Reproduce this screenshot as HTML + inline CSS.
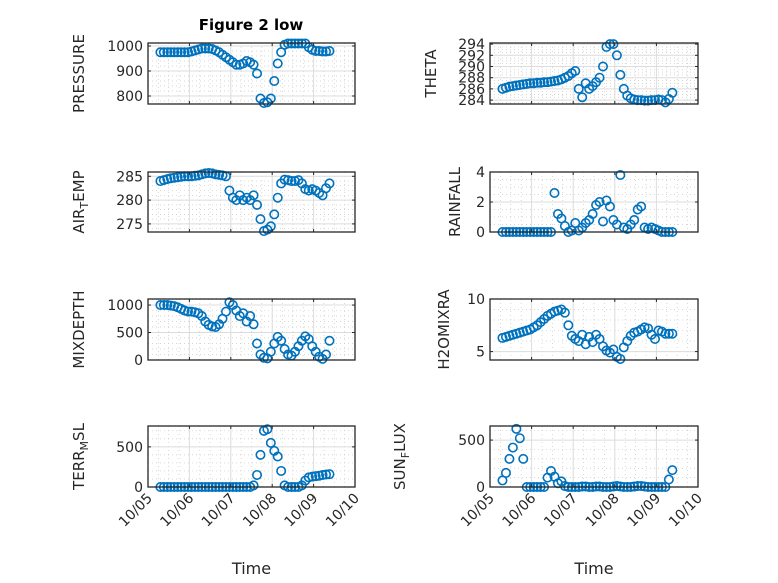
<!DOCTYPE html>
<html><head><meta charset="utf-8">
<style>
html,body{margin:0;padding:0;background:#fff;}
svg{display:block;font-family:"DejaVu Sans","Liberation Sans",sans-serif;}
</style></head>
<body>
<svg id="fig" width="778" height="583" viewBox="0 0 778 583" xmlns="http://www.w3.org/2000/svg">
<rect width="778" height="583" fill="#fff"/>
</svg>
<script>
// time axis: days since 10/05 00:00, 2-hour sampling
const startDay = 0.3;
const stepDay = 1/12;
const xTickLabels = ["10/05","10/06","10/07","10/08","10/09","10/10"];
const pressure = [975,975,975,975,975,975,975,975,975,978,982,986,990,990,990,988,982,975,965,955,945,935,925,925,930,940,935,925,890,790,772,775,790,860,930,975,1005,1010,1010,1010,1010,1010,1010,995,985,980,980,978,978,980];
const theta = [286,286.2,286.4,286.5,286.6,286.7,286.8,286.9,287,287,287.1,287.1,287.2,287.2,287.3,287.4,287.5,287.7,288,288.3,288.8,289.2,286,284.5,287,286,286.5,287.2,288,290,293.5,294,294,292,288.5,286,284.8,284.3,284.1,284,284,283.9,283.9,284,284,284.1,284,283.6,284.2,285.3];
const airTemp = [284,284.2,284.4,284.6,284.7,284.8,284.9,285,285,285,285.1,285.2,285.4,285.6,285.7,285.6,285.4,285.3,285.2,285,282,280.5,280,281,280,280.5,280,281,279,276,273.5,273.8,274.5,277,280.5,283.5,284.3,284.2,284,284,284.2,283.5,282.3,282,282.3,282,281.5,281,282.5,283.5];
const rainfall = [0,0,0,0,0,0,0,0,0,0,0,0,0,0,0,2.6,1.2,0.9,0.4,0,0.1,0.6,0.1,0.3,0.6,0.8,1.2,1.8,2.0,0.7,2.1,1.7,0.8,0.5,3.8,0.3,0.2,0.5,0.8,1.5,1.7,0.3,0.2,0.3,0.2,0.1,0,0,0,0];
const mixDepth = [1000,1000,1000,990,980,960,930,900,880,880,870,850,800,700,640,610,600,650,750,880,1050,1000,900,800,850,700,800,650,300,100,40,30,150,300,420,350,200,100,80,150,250,350,430,380,250,150,60,20,100,350];
const h2oMix = [6.3,6.4,6.5,6.6,6.7,6.8,6.9,7.0,7.1,7.3,7.5,7.8,8.1,8.4,8.6,8.8,8.9,9.0,8.7,7.5,6.5,6.2,6.0,6.6,5.7,6.4,5.9,6.6,6.2,5.5,5.1,4.9,5.2,4.5,4.3,5.4,6.0,6.5,6.8,6.9,7.1,7.3,7.2,6.6,6.2,7.0,6.9,6.7,6.7,6.7];
const terrMsl = [0,0,0,0,0,0,0,0,0,0,0,0,0,0,0,0,0,0,0,0,0,0,0,0,0,0,0,20,150,400,700,720,550,450,380,200,20,0,0,0,0,20,80,120,130,135,140,150,155,160];
const sunFlux = [70,150,300,420,620,520,300,0,0,0,0,0,0,100,170,110,40,60,10,0,0,0,0,5,5,0,0,5,5,0,0,0,5,10,5,0,0,0,5,10,10,5,0,0,0,0,0,0,80,180];

const NS = "http://www.w3.org/2000/svg";
const svg = document.getElementById("fig");
function mk(tag, attrs, parent){ const e=document.createElementNS(NS,tag); for(const k in attrs) e.setAttribute(k,attrs[k]); (parent||svg).appendChild(e); return e; }

const cols = [{x0:148,x1:355},{x0:490,x1:698}];
const rows = [{y0:43,y1:104},{y0:172,y1:232},{y0:299,y1:360},{y0:426,y1:487}];

const panels = [
 {key:"pressure", data:pressure, c:0,r:0, ylim:[768,1012], ticks:[800,900,1000], minor:20, label:["PRESSURE"], lx:79},
 {key:"theta", data:theta, c:1,r:0, ylim:[283.3,294.2], ticks:[284,286,288,290,292,294], minor:0.5, label:["THETA"], lx:431},
 {key:"air-temp", data:airTemp, c:0,r:1, ylim:[273.3,285.9], ticks:[275,280,285], minor:1, label:["AIR","T","EMP"], lx:79},
 {key:"rainfall", data:rainfall, c:1,r:1, ylim:[0,4], ticks:[0,2,4], minor:0.5, label:["RAINFALL"], lx:455},
 {key:"mixdepth", data:mixDepth, c:0,r:2, ylim:[0,1110], ticks:[0,500,1000], minor:100, label:["MIXDEPTH"], lx:79},
 {key:"h2omixra", data:h2oMix, c:1,r:2, ylim:[4.2,10], ticks:[5,10], minor:1, label:["H2OMIXRA"], lx:444},
 {key:"terr-msl", data:terrMsl, c:0,r:3, ylim:[0,760], ticks:[0,500], minor:100, label:["TERR","M","SL"], lx:79},
 {key:"sun-flux", data:sunFlux, c:1,r:3, ylim:[0,650], ticks:[0,500], minor:100, label:["SUN","F","LUX"], lx:400}
];

panels.forEach(p=>{
  const {x0,x1}=cols[p.c], {y0,y1}=rows[p.r];
  const g = mk("g",{});
  
  
  const xs = t => x0 + (t/5)*(x1-x0);
  const ys = v => y1 - (v-p.ylim[0])/(p.ylim[1]-p.ylim[0])*(y1-y0);
  mk("rect",{x:x0,y:y0,width:x1-x0,height:y1-y0,fill:"#fff"},g);
  for(let t=0.25;t<5;t+=0.25){ if(Math.abs(t-Math.round(t))<1e-6) continue;
    mk("line",{x1:xs(t),x2:xs(t),y1:y0,y2:y1,stroke:"#c8c8c8","stroke-width":0.7,"stroke-dasharray":"1 3"},g); }
  const mstart = Math.ceil(p.ylim[0]/p.minor)*p.minor;
  for(let v=mstart; v<p.ylim[1]; v+=p.minor){ if(p.ticks.some(t=>Math.abs(t-v)<1e-6)) continue;
    mk("line",{x1:x0,x2:x1,y1:ys(v),y2:ys(v),stroke:"#c8c8c8","stroke-width":0.7,"stroke-dasharray":"1 3"},g); }
  for(let i=1;i<5;i++) mk("line",{x1:xs(i),x2:xs(i),y1:y0,y2:y1,stroke:"#dcdcdc","stroke-width":1},g);
  p.ticks.forEach(v=>{ mk("line",{x1:x0,x2:x1,y1:ys(v),y2:ys(v),stroke:"#dcdcdc","stroke-width":1},g); });
  p.data.forEach((v,i)=>{
    const c = mk("circle",{cx:xs(startDay+i*stepDay).toFixed(2),cy:ys(v).toFixed(2),r:4.2,fill:"none",stroke:"#0072BD","stroke-width":1.6},g);
    
    
  });
  mk("rect",{x:x0,y:y0,width:x1-x0,height:y1-y0,fill:"none",stroke:"#262626","stroke-width":1.3},g);
  for(let i=0;i<=5;i++){ const x=xs(i);
    mk("line",{x1:x,x2:x,y1:y1,y2:y1-3,stroke:"#262626"},g);
    mk("line",{x1:x,x2:x,y1:y0,y2:y0+3,stroke:"#262626"},g); }
  p.ticks.forEach(v=>{ const y=ys(v);
    mk("line",{x1:x0,x2:x0+3,y1:y,y2:y,stroke:"#262626"},g);
    mk("line",{x1:x1,x2:x1-3,y1:y,y2:y,stroke:"#262626"},g);
    const t=mk("text",{x:x0-5,y:y+5,"text-anchor":"end","font-size":14,fill:"#262626"},g);
    t.textContent=String(v);
    
    
  });
  const cy=(y0+y1)/2;
  const lab=mk("text",{x:0,y:0,"text-anchor":"middle","font-size":15,fill:"#262626",transform:`translate(${p.lx+5},${cy}) rotate(-90)`},g);
  
  
  if(p.label.length===1){ lab.textContent=p.label[0]; }
  else {
    const a=mk("tspan",{},lab); a.textContent=p.label[0];
    const b=mk("tspan",{dy:4,"font-size":11},lab); b.textContent=p.label[1];
    const c2=mk("tspan",{dy:-4},lab); c2.textContent=p.label[2];
  }
  if(p.r===3){
    xTickLabels.forEach((s,i)=>{
      const t=mk("text",{x:0,y:0,"text-anchor":"end","font-size":14,fill:"#262626",transform:`translate(${xs(i)+5},${y1+12}) rotate(-45)`},g);
      t.textContent=s;
      
      
    });
    const xt=mk("text",{x:(x0+x1)/2,y:574,"text-anchor":"middle","font-size":16,fill:"#262626"},g);
    xt.textContent="Time";
    
    
  }
});
const title=mk("text",{x:251,y:30,"text-anchor":"middle","font-size":15,"font-weight":"bold",fill:"#000"});
title.textContent="Figure 2 low";


</script>
</body></html>
